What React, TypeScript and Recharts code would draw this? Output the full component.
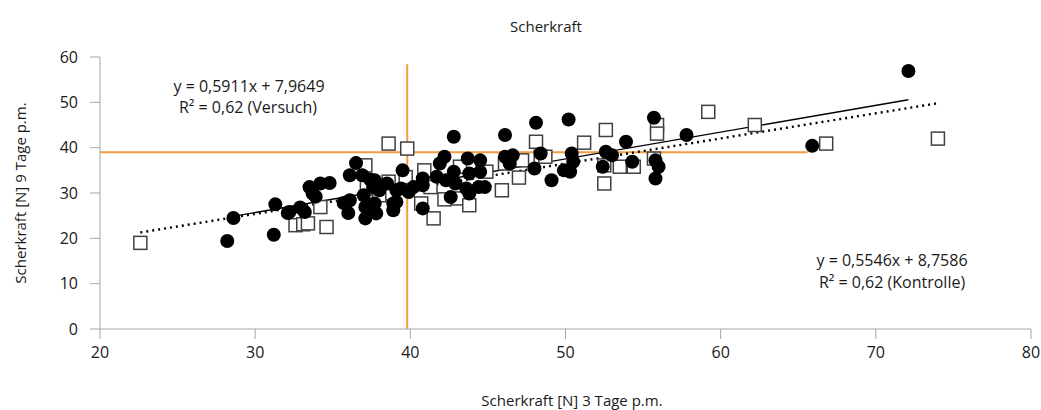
import { ScatterChart, Scatter, XAxis, YAxis, ReferenceLine } from 'recharts';

// Scherkraft 3 Tage p.m. (x) vs 9 Tage p.m. (y)
const versuch = [
  [28.2, 19.4], [28.6, 24.5], [31.2, 20.8], [31.3, 27.5], [32.1, 25.6], [32.9, 26.8], [33.2, 25.8],
  [33.5, 31.3], [34.2, 32.1], [34.8, 32.2], [33.7, 29.9], [33.9, 29.2], [36.5, 36.6], [36.1, 33.9],
  [36.9, 33.9], [37.4, 33.0], [37.7, 32.8], [38.5, 32.1], [37.6, 31.3], [38.0, 30.6], [35.7, 27.8],
  [36.1, 28.4], [36.0, 25.6], [37.0, 29.5], [37.1, 26.9], [37.5, 27.3], [37.8, 25.5], [37.1, 24.4],
  [38.9, 27.7], [38.9, 26.2], [39.1, 30.6], [39.5, 35.0], [39.4, 31.0], [39.9, 30.2], [40.2, 31.3],
  [40.8, 33.2], [40.8, 31.7], [40.8, 26.6], [41.9, 36.5], [42.2, 38.0], [41.7, 33.6], [42.8, 34.7],
  [42.3, 32.8], [42.9, 32.1], [42.6, 29.1], [43.7, 37.6], [44.5, 37.2], [43.8, 34.3], [44.5, 34.7],
  [43.6, 31.0], [44.4, 31.3], [44.8, 31.3], [43.8, 29.9], [46.1, 38.0], [46.6, 38.3], [46.4, 36.5],
  [48.0, 35.4], [48.4, 38.7], [49.1, 32.8], [49.9, 35.0], [50.3, 34.7], [50.4, 38.7], [50.5, 36.9],
  [42.8, 42.4], [46.1, 42.8], [48.1, 45.5], [50.2, 46.2], [55.7, 46.6], [53.9, 41.3], [57.8, 42.8],
  [52.6, 39.1], [53.0, 38.3], [52.4, 35.8], [54.3, 36.9], [55.8, 37.2], [56.0, 35.8], [55.8, 33.2],
  [72.1, 56.9], [65.9, 40.4], [37.7, 27.7], [39.1, 28.0], [32.2, 25.8],
].map(([x, y]) => ({ x, y }));

const kontrolle = [
  [22.6, 19.0], [32.6, 22.9], [33.1, 23.1], [33.4, 23.3], [34.6, 22.5], [34.2, 26.9], [37.1, 36.1],
  [38.6, 40.9], [39.8, 39.8], [37.2, 32.1], [38.5, 29.9], [38.0, 29.5], [39.7, 33.5], [40.7, 27.7],
  [41.5, 24.4], [40.9, 35.0], [42.2, 28.6], [43.1, 28.8], [43.8, 27.3], [43.2, 35.8], [41.3, 31.3],
  [44.9, 34.7], [45.9, 30.6], [47.0, 33.4], [46.1, 36.5], [47.2, 37.2], [48.1, 41.3], [48.4, 38.0],
  [48.7, 38.0], [51.2, 41.1], [52.6, 43.9], [52.5, 36.1], [53.5, 35.8], [54.4, 35.8], [52.5, 32.1],
  [55.7, 37.6], [55.9, 45.0], [55.9, 43.1], [59.2, 47.9], [62.2, 45.0], [66.8, 40.9], [74.0, 42.0],
  [38.6, 32.5],
].map(([x, y]) => ({ x, y }));

// trend line end points (from the printed equations)
const versuchTrend = [{ x: 28.2, y: 24.63 }, { x: 72.1, y: 50.58 }];
const kontrolleTrend = [{ x: 22.6, y: 21.29 }, { x: 74.0, y: 49.8 }];

// orange guide lines
const guideV = [{ x: 39.8, y: 0 }, { x: 39.8, y: 58.4 }];
const guideH = [{ x: 20, y: 39.0 }, { x: 65.6, y: 39.0 }];

const xTicks = [20, 30, 40, 50, 60, 70, 80];
const yTicks = [0, 10, 20, 30, 40, 50, 60];

const FONT = '"Open Sans", sans-serif';
const TEXT = '#1a1a1a';
const AXIS = '#a6a6a6';
const ORANGE = '#f39c3f';

const Dot = (p: any) => <circle cx={p.cx} cy={p.cy} r={7} fill="#000" />;
const Box = (p: any) => (
  <rect x={p.cx - 6.5} y={p.cy - 6.5} width={13} height={13} fill="#fff" stroke="#404040" strokeWidth={1.5} />
);

export default function App() {
  return (
    <div style={{ position: 'absolute', left: 0, top: 0, background: '#fff' }}>
      <ScatterChart width={1041} height={410} margin={{ top: 57, right: 10, bottom: 51, left: 0 }}>
        <XAxis
          type="number"
          dataKey="x"
          domain={[20, 80]}
          ticks={xTicks}
          height={30}
          stroke={AXIS}
          tickSize={10}
          tickMargin={8}
          tick={{ fill: TEXT, fontSize: 16, fontFamily: FONT }}
        />
        <YAxis
          type="number"
          dataKey="y"
          domain={[0, 60]}
          ticks={yTicks}
          width={100}
          stroke={AXIS}
          tickSize={10}
          tickMargin={12}
          tick={{ fill: TEXT, fontSize: 16, fontFamily: FONT }}
        />
        <ReferenceLine segment={guideV} stroke={ORANGE} strokeWidth={2} />
        <ReferenceLine segment={guideH} stroke={ORANGE} strokeWidth={2} />
        <Scatter data={kontrolle} shape={Box} isAnimationActive={false} />
        <Scatter data={versuch} shape={Dot} isAnimationActive={false} />
        <ReferenceLine segment={versuchTrend} stroke="#000" strokeWidth={1.4} />
        <ReferenceLine segment={kontrolleTrend} stroke="#000" strokeWidth={2.4} strokeDasharray="2 4" />
        <g fontFamily={FONT} fill={TEXT}>
          <text x={546} y={32} textAnchor="middle" fontSize={15}>Scherkraft</text>
          <text x={249} y={92} textAnchor="middle" fontSize={16}>y = 0,5911x + 7,9649</text>
          <text x={248} y={113} textAnchor="middle" fontSize={16}>R² = 0,62 (Versuch)</text>
          <text x={892} y={266} textAnchor="middle" fontSize={16}>y = 0,5546x + 8,7586</text>
          <text x={892} y={288} textAnchor="middle" fontSize={16}>R² = 0,62 (Kontrolle)</text>
          <text x={572} y={406} textAnchor="middle" fontSize={15}>Scherkraft [N] 3 Tage p.m.</text>
          <text x={26} y={193} textAnchor="middle" fontSize={15} transform="rotate(-90 26 193)">
            Scherkraft [N] 9 Tage p.m.
          </text>
        </g>
      </ScatterChart>
    </div>
  );
}
